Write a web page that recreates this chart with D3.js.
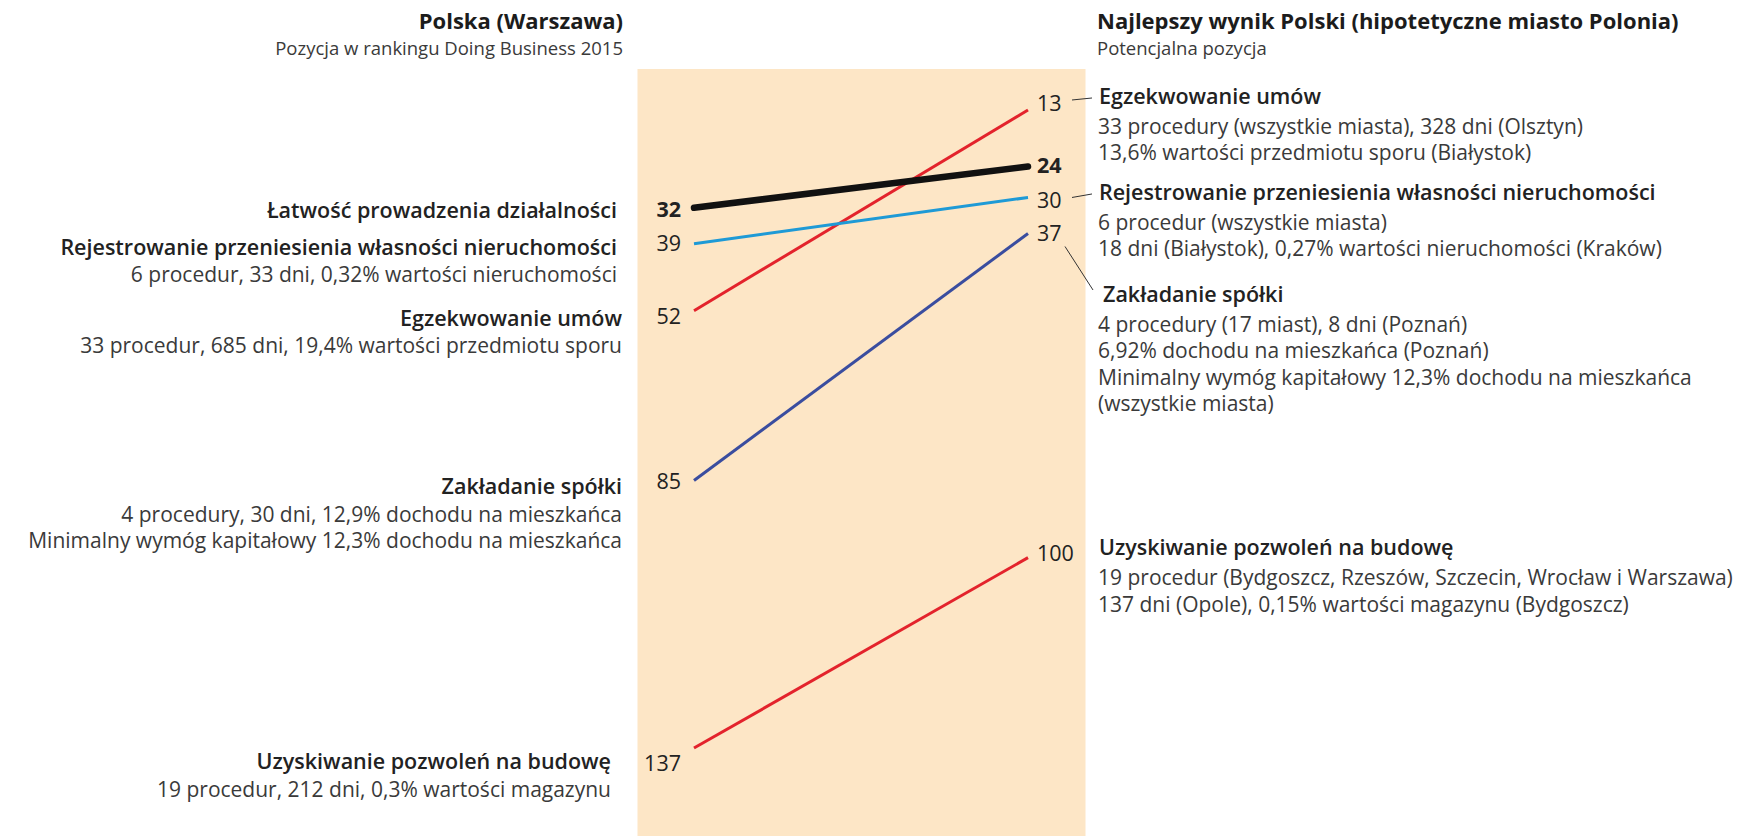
<!DOCTYPE html>
<html>
<head>
<meta charset="utf-8">
<script src="https://cdn.jsdelivr.net/npm/d3@7"></script>
<style>
  body { margin: 0; background: #fff; }
  svg { display: block; font-family: "Open Sans", "Noto Sans", sans-serif; }
</style>
</head>
<body>
<svg width="1750" height="836"></svg>
<script>
// kategorie (ta sama kolejnosc we wszystkich tablicach)
const categories = [
  "Łatwość prowadzenia działalności",
  "Rejestrowanie przeniesienia własności nieruchomości",
  "Egzekwowanie umów",
  "Zakładanie spółki",
  "Uzyskiwanie pozwoleń na budowę"
];
const rank2015 = [32, 39, 52, 85, 137];   // Warszawa, Doing Business 2015
const rankBest = [24, 30, 13, 37, 100];   // hipotetyczne miasto Polonia
const lineColors = ["#111111", "#1e9ad6", "#e3232c", "#3a4d9f", "#e3232c"];

const leftNotes = [
  [],
  ["6 procedur, 33 dni, 0,32% wartości nieruchomości"],
  ["33 procedur, 685 dni, 19,4% wartości przedmiotu sporu"],
  ["4 procedury, 30 dni, 12,9% dochodu na mieszkańca ",
   "Minimalny wymóg kapitałowy 12,3% dochodu na mieszkańca"],
  ["19 procedur, 212 dni, 0,3% wartości magazynu"]
];
const rightNotes = [
  null,
  ["6 procedur (wszystkie miasta)",
   "18 dni (Białystok), 0,27% wartości nieruchomości (Kraków)"],
  ["33 procedury (wszystkie miasta), 328 dni (Olsztyn)",
   "13,6% wartości przedmiotu sporu (Białystok)"],
  ["4 procedury (17 miast), 8 dni (Poznań)",
   "6,92% dochodu na mieszkańca (Poznań)",
   "Minimalny wymóg kapitałowy 12,3% dochodu na mieszkańca",
   "(wszystkie miasta)"],
  ["19 procedur (Bydgoszcz, Rzeszów, Szczecin, Wrocław i Warszawa)",
   "137 dni (Opole), 0,15% wartości magazynu (Bydgoszcz)"]
];
const leftHeader = ["Polska (Warszawa)", "Pozycja w rankingu Doing Business 2015"];
const rightHeader = ["Najlepszy wynik Polski (hipotetyczne miasto Polonia)", "Potencjalna pozycja"];

// przesuniecia etykiet (tylko uklad)
const leftTitleDy = [10.5, 11, 15, 14, 21];
const leftTitleDx = [-3, -3, 2, 2, -9];
const leftValDy = [2, 0, 6, 1, 15];
const rightValDy = [-1, 3, -7, 0, -4];
const rightTitleDy = [0, 2.5, -6, 68.5, -2.5];
const rightTitleDx = [0, 0, 0, 4, 0];

const svg = d3.select("svg");
const x = d3.scalePoint().domain(["2015", "best"]).range([694, 1028]);
const y = d3.scaleLinear().domain([0, 140]).range([43.1, 763.5]);

const rows = categories.map((c, i) => ({
  i, name: c, a: rank2015[i], b: rankBest[i], color: lineColors[i],
  left: leftNotes[i], right: rightNotes[i]
}));

// tlo
svg.append("rect")
  .attr("x", 637.5).attr("y", 69)
  .attr("width", 448).attr("height", 836 - 69)
  .attr("fill", "#fde6c6");

// naglowki
function header(lines, xx, anchor) {
  const g = svg.append("g").attr("text-anchor", anchor);
  g.append("text").attr("x", xx).attr("y", 29)
    .attr("font-size", 22).attr("font-weight", 700).attr("fill", "#1c1c1c")
    .text(lines[0]);
  g.append("text").attr("x", xx).attr("y", 55)
    .attr("font-size", 18.5).attr("fill", "#3a3a3a")
    .text(lines[1]);
}
header(leftHeader, 623, "end");
header(rightHeader, 1097, "start");

// linie
const line = d3.line().x(d => x(d[0])).y(d => y(d[1]));
svg.append("g").selectAll("path")
  .data(rows.slice().reverse())
  .join("path")
  .attr("d", d => line([["2015", d.a], ["best", d.b]]))
  .attr("fill", "none")
  .attr("stroke", d => d.color)
  .attr("stroke-width", d => d.i === 0 ? 6.5 : 3)
  .attr("stroke-linecap", d => d.i === 0 ? "round" : "butt");

// wartosci
svg.append("g").selectAll("text")
  .data(rows).join("text")
  .attr("x", x("2015") - 13)
  .attr("y", d => y(d.a) + leftValDy[d.i])
  .attr("dy", "0.35em")
  .attr("text-anchor", "end")
  .attr("font-size", 21.5)
  .attr("font-weight", d => d.i === 0 ? 700 : 400)
  .attr("fill", "#222")
  .text(d => d.a);

svg.append("g").selectAll("text")
  .data(rows).join("text")
  .attr("x", x("best") + 9)
  .attr("y", d => y(d.b) + rightValDy[d.i])
  .attr("dy", "0.35em")
  .attr("font-size", 21.5)
  .attr("font-weight", d => d.i === 0 ? 700 : 400)
  .attr("fill", "#222")
  .text(d => d.b);

// opisy po lewej
rows.forEach(d => {
  const base = y(d.a) + leftTitleDy[d.i];
  const xx = 620 + leftTitleDx[d.i];
  const g = svg.append("g").attr("text-anchor", "end");
  g.append("text").attr("x", xx).attr("y", base)
    .attr("font-size", 21.5).attr("font-weight", 600).attr("fill", "#222")
    .text(d.name);
  d.left.forEach((t, k) => {
    g.append("text").attr("x", xx).attr("y", base + 27.5 + 26 * k)
      .attr("font-size", 21).attr("fill", "#3a3a3a")
      .text(t);
  });
});

// opisy po prawej
const tx = 1099;
rows.filter(d => d.right).forEach(d => {
  const base = y(d.b) + rightTitleDy[d.i];
  const g = svg.append("g");
  g.append("text").attr("x", tx + rightTitleDx[d.i]).attr("y", base)
    .attr("font-size", 21.5).attr("font-weight", 600).attr("fill", "#222")
    .text(d.name);
  d.right.forEach((t, k) => {
    g.append("text").attr("x", tx - 1).attr("y", base + 30 + 26.5 * k)
      .attr("font-size", 21).attr("fill", "#3a3a3a")
      .text(t);
  });
  // odnosniki
  const ly = y(d.b) + rightValDy[d.i];
  let seg;
  if (d.right.length > 2) {
    seg = [[x("best") + 37, ly + 13], [tx - 6, base - 12]];
  } else {
    seg = [[x("best") + 44, ly - 3], [tx - 7, base - 6]];
  }
  if (d.b < 50) {
    g.append("line")
      .attr("x1", seg[0][0]).attr("y1", seg[0][1])
      .attr("x2", seg[1][0]).attr("y2", seg[1][1])
      .attr("stroke", "#333").attr("stroke-width", 1);
  }
});
</script>
</body>
</html>
